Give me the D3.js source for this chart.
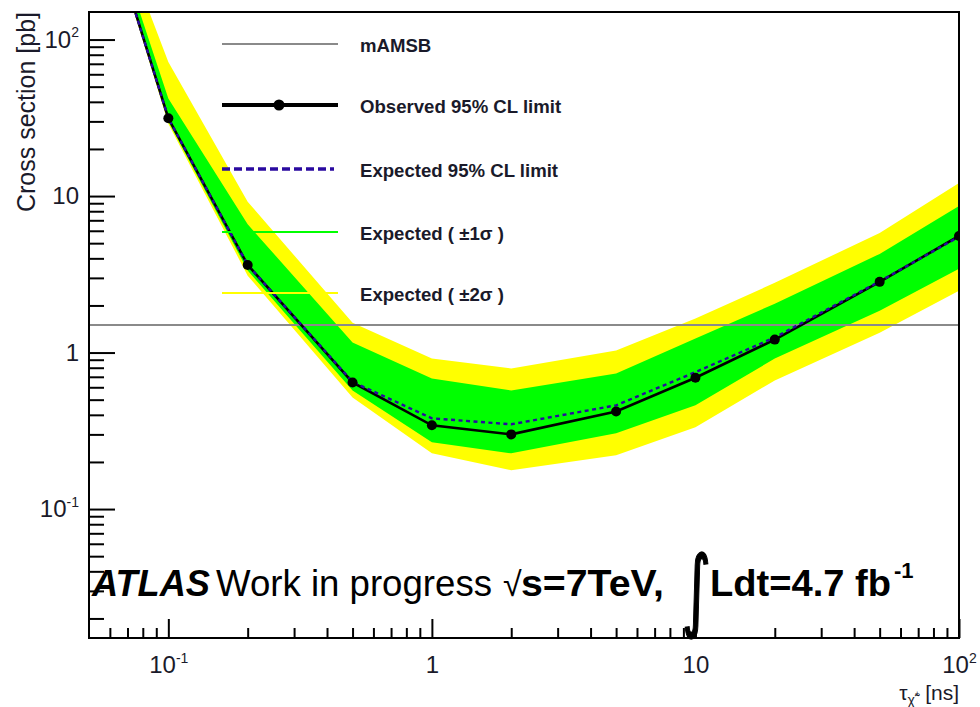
<!DOCTYPE html>
<html>
<head>
<meta charset="utf-8">
<script src="https://cdn.jsdelivr.net/npm/d3@7"></script>
<style>
  html, body { margin: 0; padding: 0; background: #fff; }
  svg { display: block; font-family: "Liberation Sans", Arial, Helvetica, sans-serif; }
</style>
</head>
<body>
<svg id="chart" width="980" height="707"></svg>
<script>
// Lifetime points [ns] and cross-section limits [pb]
const lifetimes = [0.05, 0.1, 0.2, 0.5, 1, 2, 5, 10, 20, 50, 100];
const observed  = [1340, 31.4, 3.63, 0.644, 0.343, 0.30, 0.42, 0.69, 1.21, 2.83, 5.56];
const expected  = [1340, 31.4, 3.63, 0.65, 0.38, 0.348, 0.46, 0.75, 1.25, 2.85, 5.5];
const plus2     = [1530, 72, 9.2, 1.55, 0.915, 0.791, 1.03, 1.65, 2.79, 5.81, 12.1];
const plus1     = [1430, 42, 6.6, 1.16, 0.683, 0.573, 0.735, 1.23, 2.05, 4.27, 8.64];
const minus1    = [1320, 30, 3.35, 0.573, 0.267, 0.227, 0.305, 0.46, 0.916, 1.85, 3.43];
const minus2    = [1300, 29, 3.1, 0.517, 0.227, 0.177, 0.221, 0.333, 0.663, 1.34, 2.48];
const mamsb = 1.5;

// Axis ticks and labels ([mantissa, exponent])
const xMajor = [0.1, 1, 10, 100];
const xMajorLabels = [["10", "-1"], ["1", ""], ["10", ""], ["10", "2"]];
const yMajor = [0.1, 1, 10, 100];
const yMajorLabels = [["10", "-1"], ["1", ""], ["10", ""], ["10", "2"]];
const xMinor = [0.06, 0.07, 0.08, 0.09, 0.2, 0.3, 0.4, 0.5, 0.6, 0.7, 0.8, 0.9,
                2, 3, 4, 5, 6, 7, 8, 9, 20, 30, 40, 50, 60, 70, 80, 90];
const yMinor = [0.02, 0.03, 0.04, 0.05, 0.06, 0.07, 0.08, 0.09,
                0.2, 0.3, 0.4, 0.5, 0.6, 0.7, 0.8, 0.9,
                2, 3, 4, 5, 6, 7, 8, 9, 20, 30, 40, 50, 60, 70, 80, 90];
const legendLabels = ["mAMSB", "Observed 95% CL limit", "Expected 95% CL limit",
                      "Expected ( \u00B11\u03C3 )", "Expected ( \u00B12\u03C3 )"];

const frame = { left: 89, right: 959, top: 12, bottom: 638 };
const svg = d3.select("#chart");
svg.append("rect").attr("width", 980).attr("height", 707).attr("fill", "#fff");

const x = d3.scaleLog().domain([0.05, 100]).range([frame.left, frame.right]);
const y = d3.scaleLog().domain([0.015, 150]).range([frame.bottom, frame.top]);

svg.append("clipPath").attr("id", "plotClip")
  .append("rect")
  .attr("x", frame.left).attr("y", frame.top)
  .attr("width", frame.right - frame.left).attr("height", frame.bottom - frame.top);

const plot = svg.append("g").attr("clip-path", "url(#plotClip)");
const rows = lifetimes.map((t, i) => ({ t, obs: observed[i], exp: expected[i],
  p1: plus1[i], m1: minus1[i], p2: plus2[i], m2: minus2[i] }));

// Uncertainty bands
const band = (hi, lo) => d3.area().x(d => x(d.t)).y0(d => y(d[lo])).y1(d => y(d[hi]));
plot.append("path").datum(rows).attr("d", band("p2", "m2")).attr("fill", "#ffff00");
plot.append("path").datum(rows).attr("d", band("p1", "m1")).attr("fill", "#00ff00");

// mAMSB reference cross section
plot.append("line")
  .attr("x1", frame.left).attr("x2", frame.right)
  .attr("y1", y(mamsb)).attr("y2", y(mamsb))
  .attr("stroke", "#8a8a8a").attr("stroke-width", 2);

// Observed limit
const lineGen = key => d3.line().x(d => x(d.t)).y(d => y(d[key]));
plot.append("path").datum(rows).attr("d", lineGen("obs"))
  .attr("fill", "none").attr("stroke", "#000").attr("stroke-width", 2.6);

// Expected limit
plot.append("path").datum(rows).attr("d", lineGen("exp"))
  .attr("fill", "none").attr("stroke", "#2a0aa0").attr("stroke-width", 2.4)
  .attr("stroke-dasharray", "4,3.5");

plot.selectAll("circle.obs").data(rows).join("circle").attr("class", "obs")
  .attr("cx", d => x(d.t)).attr("cy", d => y(d.obs)).attr("r", 5).attr("fill", "#000");

// Axes (ticks point inward)
const axisStyle = g => {
  g.select(".domain").remove();
  g.selectAll(".tick line").attr("stroke", "#000").attr("stroke-width", 2);
};
svg.append("g").attr("transform", `translate(0,${frame.bottom})`)
  .call(d3.axisBottom(x).tickValues(xMinor).tickSize(-10).tickFormat(""))
  .call(axisStyle);
const xAxisG = svg.append("g").attr("transform", `translate(0,${frame.bottom})`)
  .call(d3.axisBottom(x).tickValues(xMajor).tickSize(-19).tickPadding(18).tickFormat(""))
  .call(axisStyle);
svg.append("g").attr("transform", `translate(${frame.left},0)`)
  .call(d3.axisLeft(y).tickValues(yMinor).tickSize(-15).tickFormat(""))
  .call(axisStyle);
const yAxisG = svg.append("g").attr("transform", `translate(${frame.left},0)`)
  .call(d3.axisLeft(y).tickValues(yMajor).tickSize(-26).tickPadding(10).tickFormat(""))
  .call(axisStyle);

const powerLabel = (sel, labels) => {
  sel.selectAll(".tick text").each(function(d, i) {
    const t = d3.select(this).text(null)
      .attr("fill", "#1a1a2a").attr("font-size", 24);
    t.append("tspan").text(labels[i][0]);
    if (labels[i][1]) {
      t.append("tspan").attr("font-size", 14).attr("dy", "-0.75em").text(labels[i][1]);
    }
  });
};
powerLabel(xAxisG, xMajorLabels);
powerLabel(yAxisG, yMajorLabels);

// Frame
svg.append("rect")
  .attr("x", frame.left).attr("y", frame.top)
  .attr("width", frame.right - frame.left).attr("height", frame.bottom - frame.top)
  .attr("fill", "none").attr("stroke", "#000").attr("stroke-width", 2);

// Axis titles
svg.append("text")
  .attr("transform", `translate(35,${frame.top}) rotate(-90)`)
  .attr("text-anchor", "end").attr("font-size", 25).attr("fill", "#1a1a2a")
  .text("Cross section [pb]");

const xt = svg.append("text").attr("x", frame.right).attr("y", 700)
  .attr("text-anchor", "end").attr("font-size", 21).attr("fill", "#1a1a2a");
xt.append("tspan").text("\u03C4");
xt.append("tspan").attr("font-size", 14).attr("dy", 5).text("\u03C7\u0303");
xt.append("tspan").attr("font-size", 8).attr("dy", -9).text("\u00B1");
xt.append("tspan").attr("dy", 4).text(" [ns]");

// Legend
const legendRows = [44, 105, 169, 232, 293];
const lg = svg.append("g");
lg.append("line").attr("x1", 222).attr("x2", 338).attr("y1", legendRows[0]).attr("y2", legendRows[0])
  .attr("stroke", "#8a8a8a").attr("stroke-width", 2);
lg.append("line").attr("x1", 222).attr("x2", 338).attr("y1", legendRows[1]).attr("y2", legendRows[1])
  .attr("stroke", "#000").attr("stroke-width", 4);
lg.append("circle").attr("cx", 279).attr("cy", legendRows[1]).attr("r", 5.5).attr("fill", "#000");
lg.append("line").attr("x1", 222).attr("x2", 334).attr("y1", legendRows[2]).attr("y2", legendRows[2])
  .attr("stroke", "#2a0aa0").attr("stroke-width", 3.5).attr("stroke-dasharray", "8,4");
lg.append("line").attr("x1", 222).attr("x2", 338).attr("y1", legendRows[3]).attr("y2", legendRows[3])
  .attr("stroke", "#00ff00").attr("stroke-width", 2);
lg.append("line").attr("x1", 222).attr("x2", 338).attr("y1", legendRows[4]).attr("y2", legendRows[4])
  .attr("stroke", "#ffff00").attr("stroke-width", 2);
lg.selectAll("text").data(legendLabels).join("text")
  .attr("x", 360).attr("y", (d, i) => legendRows[i] + 1).attr("dy", "0.35em")
  .attr("font-size", 18.6).attr("font-weight", "bold").attr("fill", "#1a1a2a")
  .text(d => d);

// Experiment label
svg.append("text").attr("x", 92).attr("y", 596).attr("font-size", 36)
  .attr("font-weight", "bold").attr("font-style", "italic").attr("fill", "#000")
  .attr("textLength", 118).attr("lengthAdjust", "spacingAndGlyphs").text("ATLAS");
svg.append("text").attr("x", 216).attr("y", 596).attr("font-size", 36).attr("fill", "#000")
  .attr("textLength", 276).attr("lengthAdjust", "spacingAndGlyphs").text("Work in progress");

svg.append("text").attr("x", 503).attr("y", 596).attr("font-size", 34).attr("fill", "#000").text("\u221A");
svg.append("text").attr("x", 521).attr("y", 596).attr("font-size", 36)
  .attr("font-weight", "bold").attr("fill", "#000")
  .attr("textLength", 143).attr("lengthAdjust", "spacingAndGlyphs").text("s=7TeV,");
svg.append("text").attr("transform", "translate(682,620) scale(0.62,1)").attr("font-size", 90)
  .attr("font-family", "DejaVu Sans").attr("fill", "#000")
  .attr("stroke", "#000").attr("stroke-width", 1.5).text("\u222B");
svg.append("text").attr("x", 710).attr("y", 596).attr("font-size", 36)
  .attr("font-weight", "bold").attr("fill", "#000")
  .attr("textLength", 181).attr("lengthAdjust", "spacingAndGlyphs").text("Ldt=4.7 fb");
svg.append("text").attr("x", 894).attr("y", 578).attr("font-size", 22)
  .attr("font-weight", "bold").attr("fill", "#000").text("-1");
</script>
</body>
</html>
